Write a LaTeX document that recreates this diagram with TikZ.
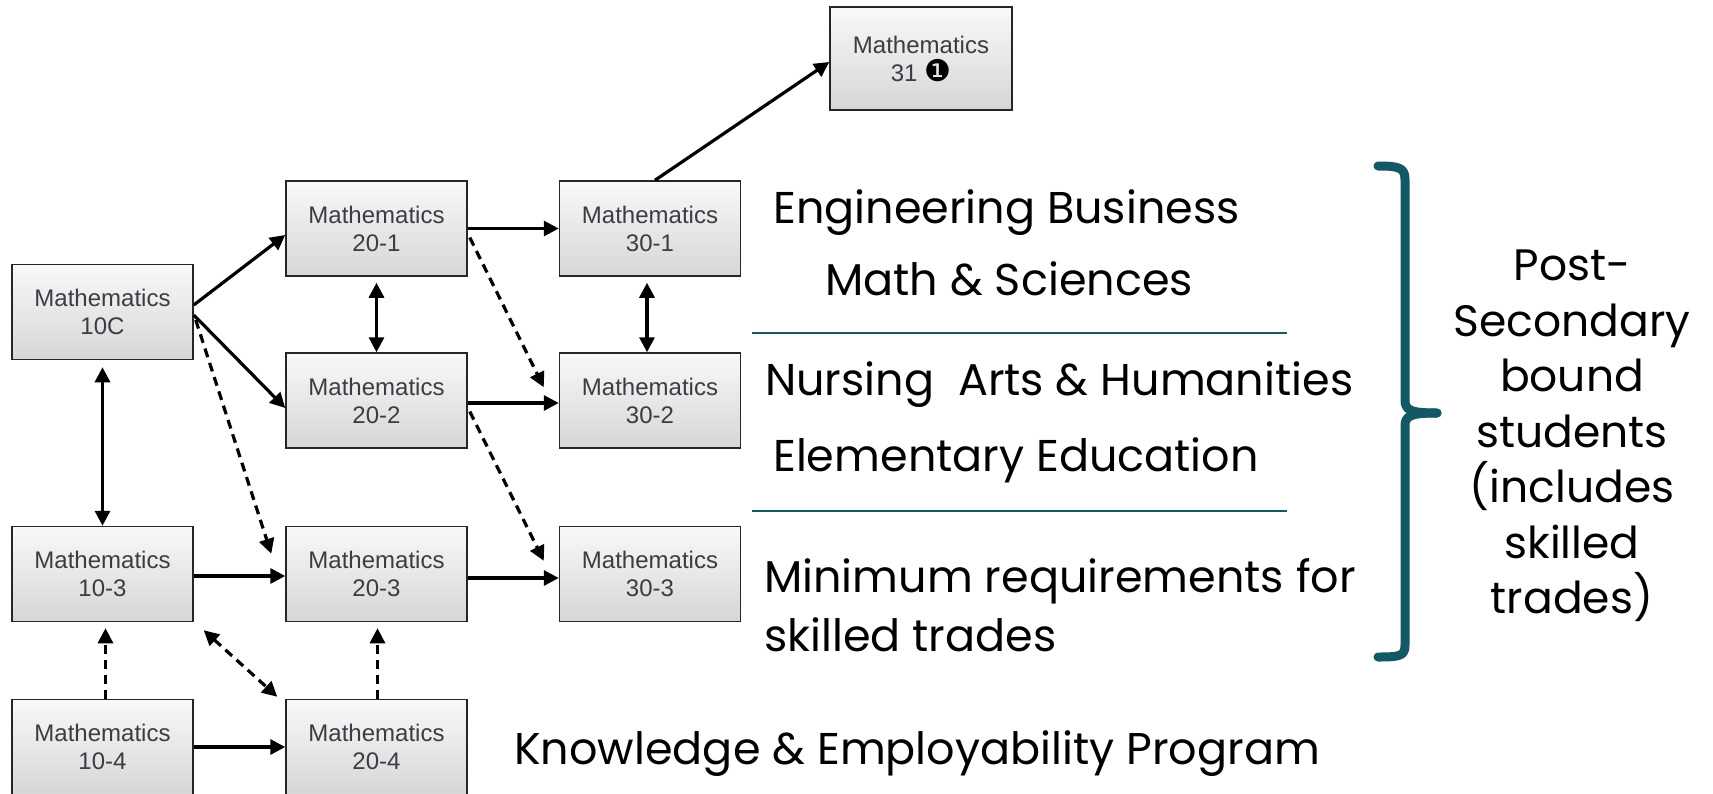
\documentclass[tikz,border=0pt]{standalone}
\usepackage{fontspec}
\setmainfont{Liberation Sans}
\newfontfamily\gothic{Poppins}
\newfontfamily\dingfont{DejaVu Sans}
\usetikzlibrary{arrows.meta}
\definecolor{bracketteal}{RGB}{19,88,100}
\definecolor{boxtext}{RGB}{60,60,68}
\tikzset{
  mathbox/.style={draw=black!85, line width=1.5pt, top color=gray!5, bottom color=gray!32,
    minimum width=181pt, minimum height=95pt, inner sep=0pt, align=center,
    text=boxtext, font=\fontsize{24}{28}\selectfont},
  solidarr/.style={line width=3.2pt, -{Triangle[length=15pt,width=15pt]}},
  bothway/.style={line width=3.2pt, {Triangle[length=15pt,width=15pt]}-{Triangle[length=15pt,width=15pt]}},
  dashedarr/.style={solidarr, dash pattern=on 9pt off 6pt},
  dashedboth/.style={bothway, dash pattern=on 9pt off 6pt},
  bigtext/.style={inner sep=0pt, font=\gothic\fontsize{44.5}{57}\selectfont}
}
\begin{document}
\begin{tikzpicture}[x=1pt,y=-1pt]
\useasboundingbox (0,0) rectangle (1713,793);

\node[mathbox] (m10c) at (102.5,312) {Mathematics\\10C};
\node[mathbox] (m201) at (376.5,228.5) {Mathematics\\20-1};
\node[mathbox] (m202) at (376.5,400.5) {Mathematics\\20-2};
\node[mathbox] (m301) at (650,228.5) {Mathematics\\30-1};
\node[mathbox] (m302) at (650,400.5) {Mathematics\\30-2};
\node[mathbox] (m103) at (102.5,574) {Mathematics\\10-3};
\node[mathbox] (m203) at (376.5,574) {Mathematics\\20-3};
\node[mathbox] (m303) at (650,574) {Mathematics\\30-3};
\node[mathbox] (m104) at (102.5,747) {Mathematics\\10-4};
\node[mathbox] (m204) at (376.5,747) {Mathematics\\20-4};
\node[mathbox, minimum width=182pt, minimum height=103pt] (m31) at (921,58.5)
  {Mathematics\\31 {\dingfont\fontsize{30}{28}\selectfont\color{black}\char"2776}};

% solid paths
\draw[solidarr] ([yshift=7pt]m10c.east) -- ([yshift=-6.5pt]m201.west);
\draw[solidarr] ([yshift=-3pt]m10c.east) -- ([yshift=-7.5pt]m202.west);
\draw[bothway] ([yshift=-7pt]m10c.south) -- (m103.north);
\draw[bothway] ([yshift=-6pt]m201.south) -- (m202.north);
\draw[bothway] ([xshift=-3pt,yshift=-6pt]m301.south) -- ([xshift=-3pt]m302.north);
\draw[solidarr] (m201.east) -- (m301.west);
\draw[solidarr] ([yshift=-2.5pt]m202.east) -- ([yshift=-2.5pt]m302.west);
\draw[solidarr] ([yshift=-2pt]m103.east) -- ([yshift=-2pt]m203.west);
\draw[solidarr] ([yshift=-4pt]m203.east) -- ([yshift=-4pt]m303.west);
\draw[solidarr] (m104.east) -- (m204.west);
\draw[solidarr] ([xshift=5pt]m301.north) -- ([yshift=-3.5pt]m31.west);

% dashed paths
\draw[dashedarr] ([xshift=2pt,yshift=-8pt]m10c.east) -- ([xshift=-14pt,yshift=-28pt]m203.north west);
\draw[dashedarr] ([xshift=2pt,yshift=-9pt]m201.east) -- ([xshift=-15pt,yshift=-35pt]m302.north west);
\draw[dashedarr] ([xshift=2pt,yshift=-11pt]m202.east) -- ([xshift=-15pt,yshift=-35pt]m303.north west);
\draw[dashedarr] ([xshift=3pt]m104.north) -- ([xshift=3pt,yshift=-6pt]m103.south);
\draw[dashedarr] ([xshift=1pt]m204.north) -- ([xshift=1pt,yshift=-6pt]m203.south);
\draw[dashedboth] ([xshift=10pt,yshift=-8pt]m103.south east) -- ([xshift=-8pt,yshift=2pt]m204.north west);

% labels
\node[bigtext, anchor=base west] (engtext) at (773,223) {Engineering Business};
\node[bigtext, anchor=base west] (mathtext) at (825,295) {Math \& Sciences};
\node[bigtext, anchor=base west] (nurstext) at (765,395) {Nursing~ Arts \& Humanities};
\node[bigtext, anchor=base west] (elemtext) at (773,471) {Elementary Education};
\node[bigtext, anchor=base west] (mintext) at (764,592) {Minimum requirements for};
\node[bigtext, anchor=base west] (skilltext) at (764,651) {skilled trades};
\node[bigtext, anchor=base west] (ketext) at (514,764) {Knowledge \& Employability Program};
\node[bigtext, align=center, font=\gothic\fontsize{44}{55.5}\selectfont] (psstext) at (1572,436)
  {Post-\\Secondary\\bound\\students\\(includes\\skilled\\trades)};

\draw[bracketteal, line width=2pt] (752,333) -- (1287,333);
\draw[bracketteal, line width=2pt] (752,511) -- (1287,511);

% bracket
\draw[bracketteal, line width=9pt, line cap=round, line join=round]
  (1378,166) .. controls (1400,166) and (1405,168) .. (1405,180) -- (1405,400)
  .. controls (1405,410) and (1410,413) .. (1437,413);
\draw[bracketteal, line width=9pt, line cap=round, line join=round]
  (1437,413) .. controls (1410,413) and (1405,416) .. (1405,426) -- (1405,645)
  .. controls (1405,656) and (1400,657) .. (1378,657);
\end{tikzpicture}
\end{document}
